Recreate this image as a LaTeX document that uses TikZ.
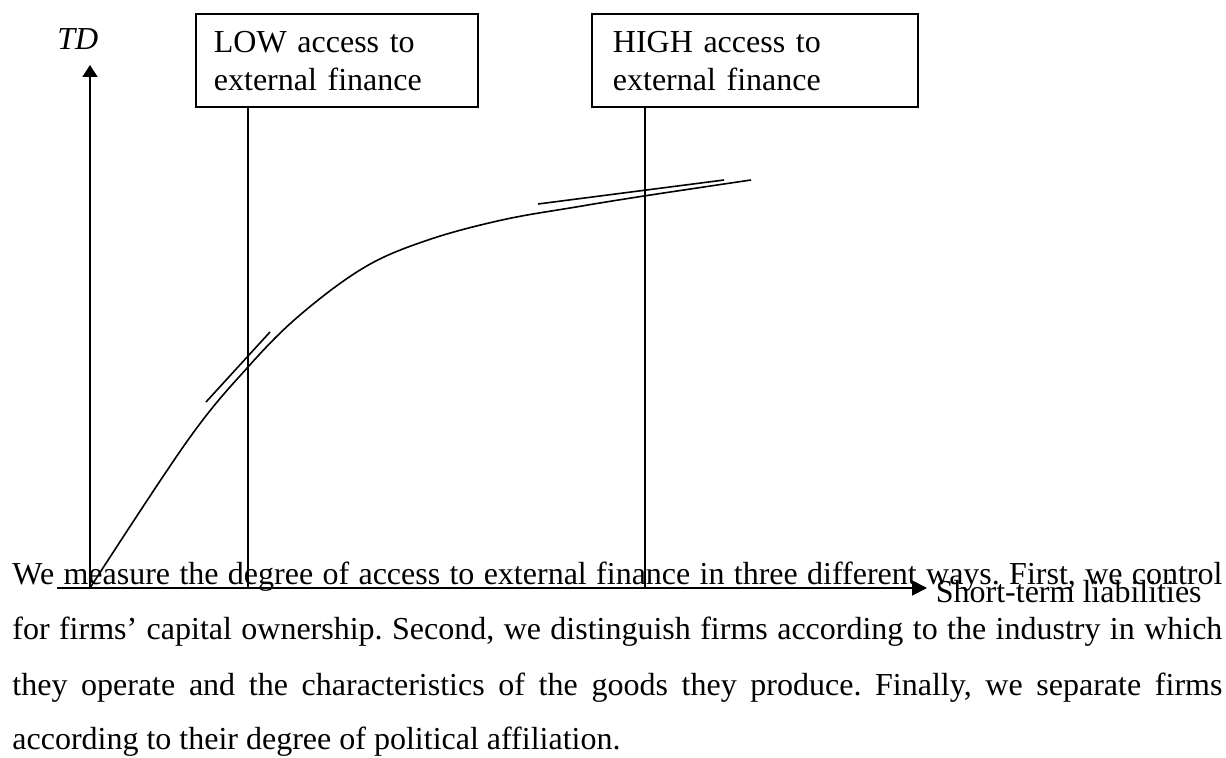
\documentclass[tikz,border=0pt]{standalone}
\usepackage{fontspec}
\setmainfont{Liberation Serif}
\usetikzlibrary{arrows.meta}
\frenchspacing
\begin{document}
\begin{tikzpicture}[x=0.5pt, y=-0.5pt, >={Triangle[length=6pt,width=7.5pt]},
    font=\fontsize{16}{19}\selectfont,
    finbox/.style={draw, line width=0.9pt, anchor=north west, align=left, inner ysep=8.5pt},
    axisline/.style={line width=0.9pt},
    guide/.style={line width=0.8pt}]
    \useasboundingbox (0,0) rectangle (1226,758);
    \node[finbox, inner xsep=9pt, text width=123pt] (low) at (195,13) {LOW access to\\external finance};
    \node[finbox, inner xsep=10.5pt, text width=142pt] (high) at (591,13) {HIGH access to\\external finance};
    \node[anchor=base west, inner sep=0, font=\fontsize{16}{19}\selectfont\itshape] (td) at (57,50) {TD};
    \node[anchor=base east, inner sep=0] (stl) at (1202,603) {Short-term liabilities};
    \node[anchor=base west, inner sep=0, text width=605pt, align=justify,
        font=\fontsize{16}{27.5}\selectfont] (para) at (12,585)
        {We measure the degree of access to external finance in three different ways. First, we control\linebreak
         for firms’ capital ownership. Second, we distinguish firms according to the industry in which\linebreak
         they operate and the characteristics of the goods they produce. Finally, we separate firms\linebreak
         according to their degree of political affiliation.};
    \coordinate (O) at (90,588);
    \coordinate (ytip) at (90,65);
    \coordinate (xstart) at (57,588);
    \coordinate (xtip) at (927,588);
    \coordinate (lowfoot) at (248,588);
    \coordinate (highfoot) at (645,588);
    \draw[axisline,->] (O) -- (ytip);
    \draw[axisline,-{Triangle[length=7.5pt,width=7.5pt]}] (xstart) -- (xtip);
    \draw[guide] (low.south -| lowfoot) -- (lowfoot);
    \draw[guide] (high.south -| highfoot) -- (highfoot);
    \draw[guide] plot[smooth, tension=0.6] coordinates {(O) (188,440) (248,367) (300,315) (365,267)
        (428,240) (502,220) (576,207) (644,196) (751,180)};
    \coordinate (t1a) at (206,402);
    \coordinate (t1b) at (270,332);
    \coordinate (t2a) at (538,204);
    \coordinate (t2b) at (724,180);
    \draw[guide] (t1a) -- (t1b);
    \draw[guide] (t2a) -- (t2b);
\end{tikzpicture}
\end{document}
